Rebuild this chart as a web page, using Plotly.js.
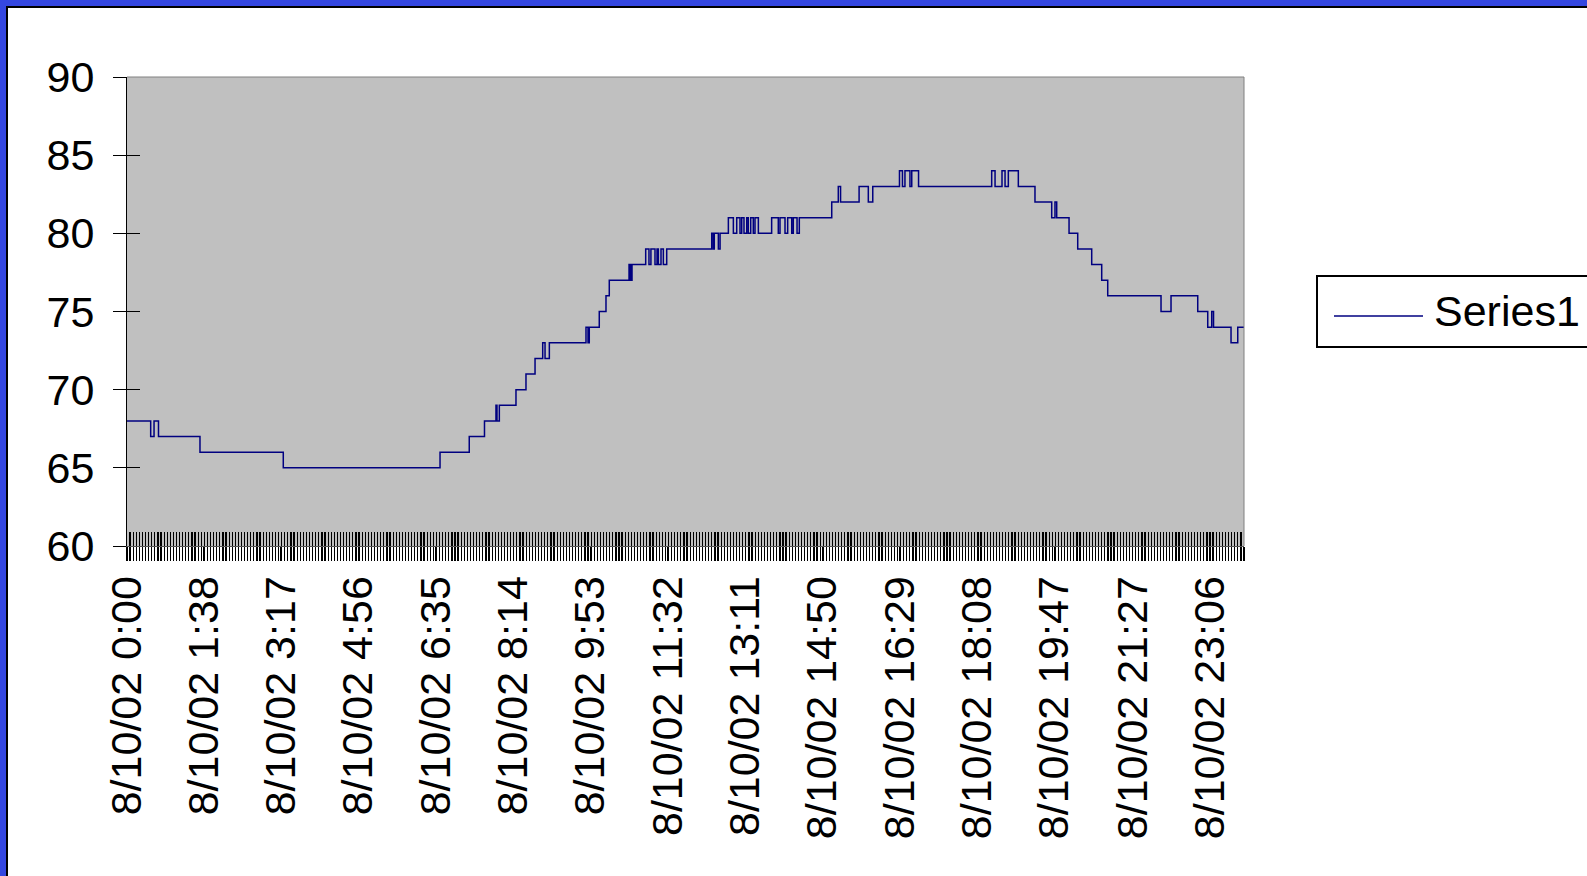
<!DOCTYPE html>
<html>
<head>
<meta charset="utf-8">
<script src="https://cdn.plot.ly/plotly-3.0.1.min.js"></script>
<style>
  html, body { margin: 0; padding: 0; background: #ffffff; overflow: hidden; }
  #frame { position: absolute; left: 0; top: 0; width: 1587px; height: 876px;
           border-top: 6px solid #3447E0; border-left: 6px solid #3447E0; box-sizing: border-box; }
  #inner { position: absolute; left: 0; top: 0; right: 0; bottom: 0;
           border-top: 2px solid #000; border-left: 2px solid #000; }
  #chart { position: absolute; left: 0; top: 0; width: 1587px; height: 876px; }
</style>
</head>
<body>
<div id="frame"><div id="inner"></div></div>
<div id="chart"></div>
<script>
// ---- data (minutes after midnight at which the reading changes, and the new reading) ----
const changeMinutes = [
  0, 30.3, 34.6, 40.3, 93.4, 200, 400.6, 438, 457.5, 472.2, 473.5, 476.5,
  497.8, 510.6, 522.2, 532, 535, 540.5, 587.4, 590, 591.6, 604.4, 613, 617.2,
  642.5, 644.4, 646.3, 663.8, 668, 670.5, 675.7, 678.3, 680, 683.4, 686.4, 690.7,
  748.3, 750.3, 751.6, 756.8, 759, 769.6, 776, 780.3, 784.5, 786.7, 789.6, 793.1,
  795.1, 798.2, 801.5, 803.7, 808, 825, 833.5, 835.7, 842.1, 845.5, 850.7, 852.7,
  857.5, 860.4, 901.9, 910.3, 913.2, 936.9, 948.7, 954.4, 988.6, 992.4, 995.6, 1002,
  1004.3, 1013, 1106.6, 1110.9, 1119.8, 1123.7, 1127.9, 1140.7, 1162, 1183.4, 1187.6, 1189.8,
  1205.6, 1216.7, 1234.6, 1247.4, 1255.1, 1323.3, 1336.1, 1370.3, 1383.1, 1388.2, 1390.5, 1412.9,
  1421.5, 1429.5
];
const readings = [
  68, 67, 68, 67, 66, 65, 66, 67, 68, 69, 68, 69,
  70, 71, 72, 73, 72, 73, 74, 73, 74, 75, 76, 77,
  78, 77, 78, 79, 78, 79, 78, 79, 78, 79, 78, 79,
  80, 79, 80, 79, 80, 81, 80, 81, 80, 81, 80, 81,
  80, 81, 80, 81, 80, 81, 80, 81, 80, 81, 80, 81,
  80, 81, 82, 83, 82, 83, 82, 83, 84, 83, 84, 83,
  84, 83, 84, 83, 84, 83, 84, 83, 82, 81, 82, 81,
  80, 79, 78, 77, 76, 75, 76, 75, 74, 75, 74, 73,
  74, 74
];
const tickLabels = [
  "8/10/02 0:00", "8/10/02 1:38", "8/10/02 3:17", "8/10/02 4:56", "8/10/02 6:35",
  "8/10/02 8:14", "8/10/02 9:53", "8/10/02 11:32", "8/10/02 13:11", "8/10/02 14:50",
  "8/10/02 16:29", "8/10/02 18:08", "8/10/02 19:47", "8/10/02 21:27", "8/10/02 23:06"
];
const seriesName = "Series1";
const yTicks = [60, 65, 70, 75, 80, 85, 90];

// ---- layout helpers ----
const W = 1587, H = 876;
const M = { l: 127, r: 343, t: 77, b: 330 };
const PW = W - M.l - M.r, PH = H - M.t - M.b;
const px = x => (x - M.l) / PW;          // pixel -> paper x
const py = y => (H - M.b - y) / PH;      // pixel -> paper y

const tickVals = tickLabels.map(s => {
  const hm = s.split(" ")[1].split(":");
  return (+hm[0]) * 60 + (+hm[1]);
});
const xRange = [0, changeMinutes[changeMinutes.length - 1]];
const denseStep = 99 / 25;
const FONT = "Liberation Sans, Arial, sans-serif";
const navy = "#000080";

const traces = [
  { x: changeMinutes, y: readings, type: "scatter", mode: "lines", name: seriesName,
    line: { color: navy, width: 1.5, shape: "hv" }, showlegend: false, hoverinfo: "x+y" },
  { x: [null], y: [null], xaxis: "x2", yaxis: "y", type: "scatter", mode: "lines",
    showlegend: false, hoverinfo: "skip" },
  { x: [null], y: [null], xaxis: "x3", yaxis: "y", type: "scatter", mode: "lines",
    showlegend: false, hoverinfo: "skip" },
  { x: [null], y: [null], xaxis: "x", yaxis: "y2", type: "scatter", mode: "lines",
    showlegend: false, hoverinfo: "skip" }
];

const denseAxis = side => ({
  overlaying: "x", anchor: "y", side: "bottom", range: xRange, type: "linear",
  tickmode: "linear", tick0: 0, dtick: denseStep, ticks: side, ticklen: 14,
  tickwidth: 1.2, tickcolor: "#000", showticklabels: false, showline: false,
  showgrid: false, zeroline: false, fixedrange: true
});

const layout = {
  width: W, height: H,
  margin: { l: M.l, r: M.r, t: M.t, b: M.b, autoexpand: false },
  paper_bgcolor: "rgba(0,0,0,0)",
  plot_bgcolor: "#C0C0C0",
  showlegend: false,
  font: { family: FONT, color: "#000", size: 43 },
  xaxis: {
    type: "linear", range: xRange, tickmode: "array", tickvals: tickVals, ticktext: tickLabels,
    tickangle: -90, ticks: "outside", ticklen: 14, tickcolor: "#000", tickwidth: 1,
    tickfont: { family: FONT, size: 43, color: "#000" },
    showline: true, linecolor: "#555", linewidth: 1, showgrid: false, zeroline: false,
    ticklabelstandoff: -2, fixedrange: true
  },
  xaxis2: denseAxis("outside"),
  xaxis3: denseAxis("inside"),
  yaxis: {
    range: [60, 90], tickmode: "array", tickvals: yTicks, ticks: "outside", ticklen: 13,
    tickcolor: "#000", tickwidth: 1, tickfont: { family: FONT, size: 43, color: "#000" },
    showline: true, linecolor: "#000", linewidth: 1, showgrid: false, zeroline: false,
    ticklabelstandoff: 10, fixedrange: true
  },
  yaxis2: {
    overlaying: "y", anchor: "x", side: "left", range: [60, 90], tickmode: "array",
    tickvals: yTicks, ticks: "inside", ticklen: 13, tickcolor: "#000", tickwidth: 1,
    showticklabels: false, showline: false, showgrid: false, zeroline: false, fixedrange: true
  },
  shapes: [
    // plot-area border (top and right)
    { type: "line", xref: "paper", yref: "paper", x0: 0, x1: 1, y0: 1, y1: 1,
      line: { color: "#808080", width: 1 } },
    { type: "line", xref: "paper", yref: "paper", x0: 1, x1: 1, y0: 0, y1: 1,
      line: { color: "#808080", width: 1 } },
    // legend box and sample line
    { type: "rect", xref: "paper", yref: "paper", x0: px(1317), x1: px(1600), y0: py(347), y1: py(276),
      line: { color: "#000", width: 2 }, fillcolor: "#fff" },
    { type: "line", xref: "paper", yref: "paper", x0: px(1334), x1: px(1423), y0: py(316), y1: py(316),
      line: { color: navy, width: 1.5 } }
  ],
  annotations: [
    { text: seriesName, xref: "paper", yref: "paper", x: px(1432), y: py(311),
      xanchor: "left", yanchor: "middle", showarrow: false,
      font: { family: FONT, size: 43, color: "#000" } }
  ]
};

Plotly.newPlot("chart", traces, layout, { staticPlot: true, displayModeBar: false });
</script>
</body>
</html>
